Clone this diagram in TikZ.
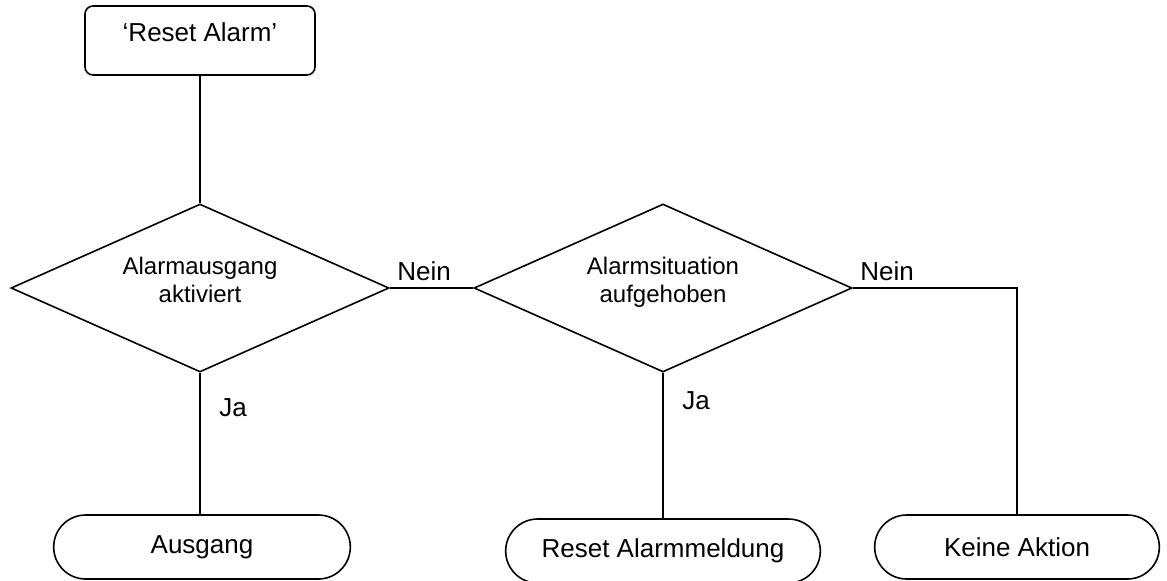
\documentclass[tikz,border=0pt]{standalone}
\usepackage{fontspec}
\setmainfont{Liberation Sans}
\usepackage{tikz}
\usetikzlibrary{shapes.geometric,shapes.misc}

\begin{document}
\begin{tikzpicture}[-,x=0.5pt,y=-0.5pt,auto,node distance=129.5pt,
  thick,start node/.style={rectangle,rounded corners=4pt,draw,minimum width=115pt,minimum height=34.5pt,text height=9pt,text depth=8pt,font=\fontsize{13}{15.6}\selectfont},
  decision node/.style={diamond,draw,aspect=2.25,inner sep=0pt,minimum width=189pt,minimum height=84pt,align=center,text depth=8.4pt,font=\fontsize{12}{14}\selectfont},
  end node/.style={rounded rectangle,draw,minimum height=32pt,font=\fontsize{13}{15.6}\selectfont}]

  \useasboundingbox (0,0) rectangle (1167,580);

  \node[start node] (1) at (200,40.5) {‘Reset Alarm’};
  \node[decision node] (2) [below of=1,yshift=5.75pt] {Alarmausgang\\aktiviert};
  \node[decision node] (3) [right of=2,xshift=102pt] {Alarmsituation\\aufgehoben};
  \node[end node] (4) [below of=2,xshift=1pt,minimum width=155pt] {Ausgang};
  \node[end node] (5) [below of=3,yshift=-2pt,minimum width=164pt] {Reset Alarmmeldung};
  \node[end node] (6) [below of=3,xshift=177pt,minimum width=149pt] {Keine Aktion};

  \path[every node/.style={font=\fontsize{13}{15.6}\selectfont}]
    (1) edge node {} (2)
    (2) edge node [pos=0,above right] {Nein} (3)
    (2.south) edge node [pos=0.25,right,xshift=6pt] {Ja} (2.south |- 4.north)
    (3) edge node [pos=0.19,right,xshift=6pt] {Ja} (5);
    \draw (3.east) -| node [pos=0,above right,font=\fontsize{13}{15.6}\selectfont] {Nein} (6.north);
\end{tikzpicture}
\end{document}
